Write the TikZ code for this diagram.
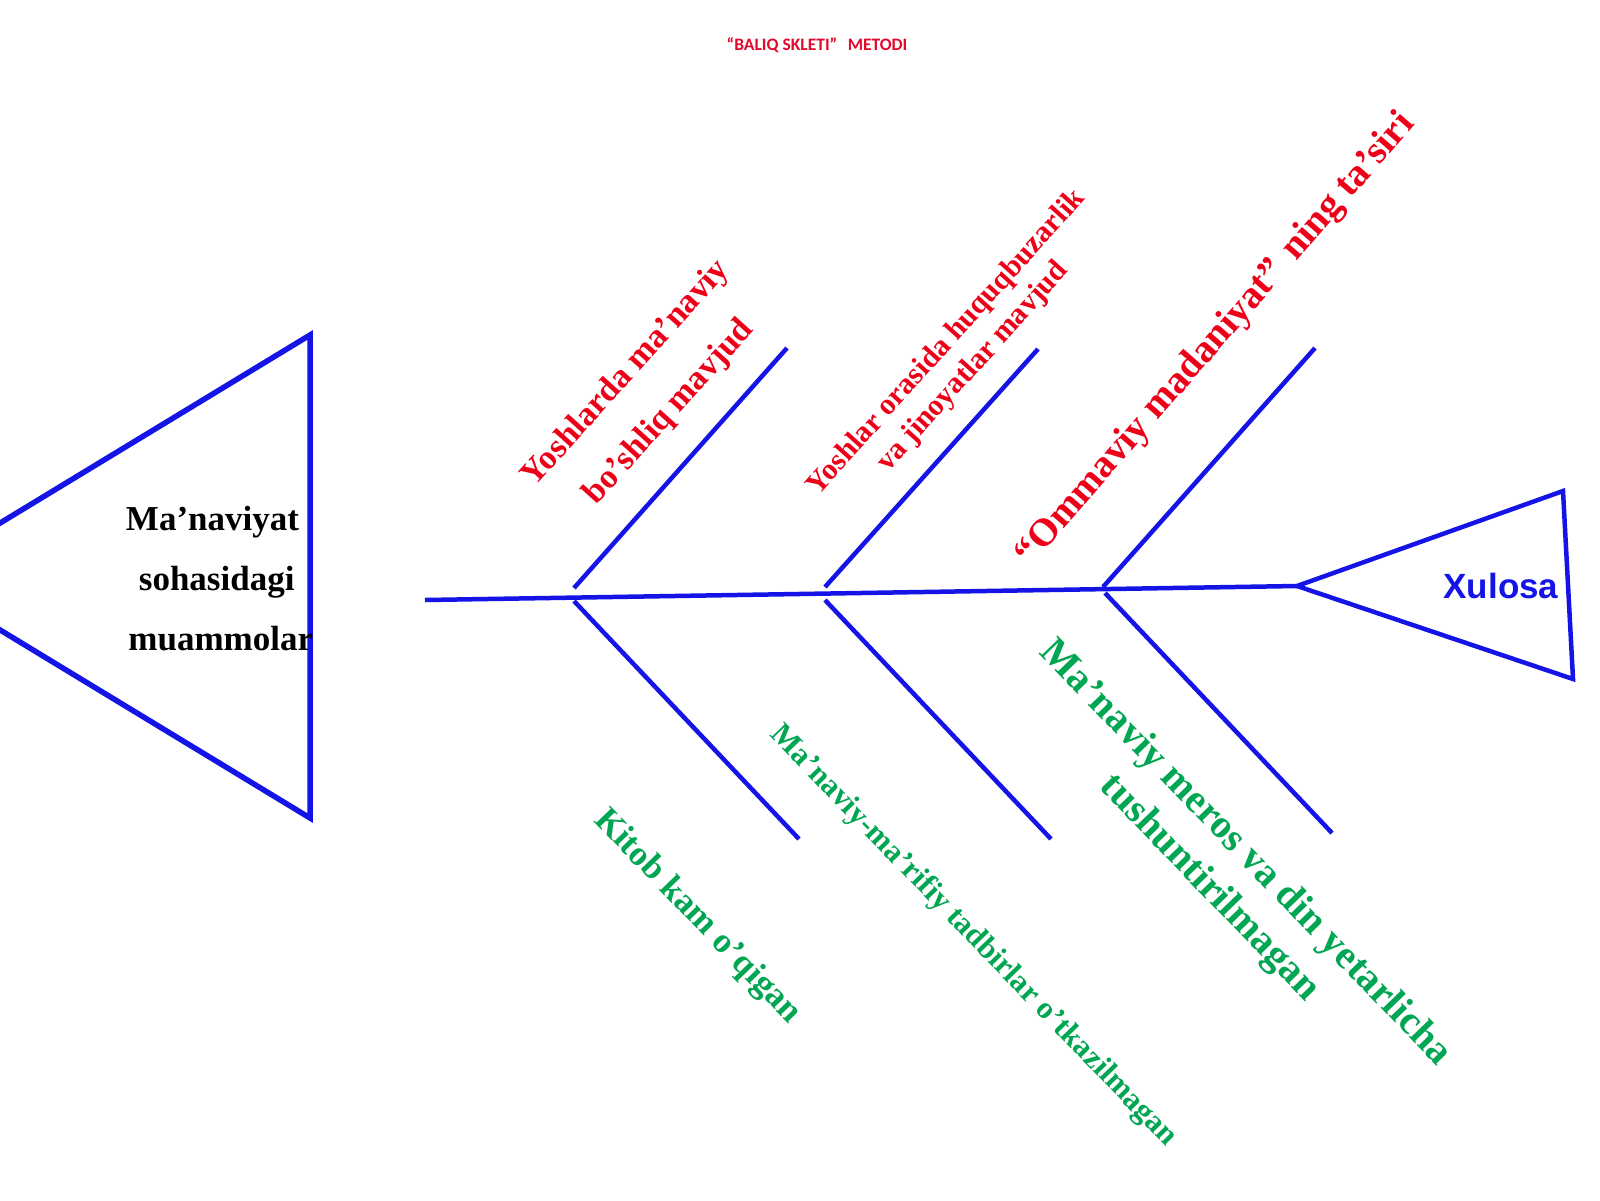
\documentclass[tikz,border=0pt]{standalone}
\usepackage{fontspec}
\setmainfont{Liberation Serif}
\newfontfamily\sansfnt{Liberation Sans}
\newfontfamily\calfnt{Carlito}
\definecolor{lineblue}{RGB}{20,20,230}
\definecolor{labred}{RGB}{238,0,24}
\definecolor{labgreen}{RGB}{0,166,81}
\definecolor{titlered}{RGB}{225,10,45}
\begin{document}
\begin{tikzpicture}[x=1pt,y=-1pt,
  bone/.style={draw=lineblue,line width=4.5pt},
  headtri/.style={draw=lineblue,line width=5.5pt},
  tailtri/.style={draw=lineblue,line width=4.5pt},
  lab/.style={inner sep=0pt,align=center},
  uplab/.style={lab,text=labred,rotate=48},
  downlab/.style={lab,text=labgreen,rotate=-46}]
\useasboundingbox (0,0) rectangle (1600,1200);
\fill[white] (0,0) rectangle (1600,1200);
\clip (0,0) rectangle (1600,1200);

% title
\node[font=\calfnt\bfseries\fontsize{17.5}{20}\selectfont,text=titlered,inner sep=0pt] (title) at (817,45) {“BALIQ SKLETI”\hspace{0.6em}METODI};

% left triangle (head of the problem)
\coordinate (ltop) at (310,335);
\coordinate (lbot) at (310,818);
\coordinate (lapex) at (-88,576.5);
\draw[headtri] (ltop) -- (lapex) -- (lbot) -- cycle;
\node[font=\bfseries\fontsize{35}{42}\selectfont,anchor=base,inner sep=0pt] (prob1) at (212.5,530.7) {Ma’naviyat};
\node[font=\bfseries\fontsize{35}{42}\selectfont,anchor=base,inner sep=0pt] (prob2) at (216.7,590) {sohasidagi};
\node[font=\bfseries\fontsize{35}{42}\selectfont,anchor=base,inner sep=0pt] (prob3) at (220.8,650) {muammolar};

% spine
\coordinate (tail) at (425,600);
\coordinate (head) at (1297,586);
\draw[bone] (tail) -- (head);

% right triangle (conclusion)
\coordinate (rtop) at (1563,491);
\coordinate (rbot) at (1573,679);
\draw[tailtri] (head) -- (rtop) -- (rbot) -- cycle;
\node[font=\sansfnt\bfseries\fontsize{35}{42}\selectfont,text=lineblue,inner sep=0pt] (xulosa) at (1501,586) {Xulosa};

% bones
\coordinate (u1s) at (574,588);  \coordinate (u1) at (787,348);
\coordinate (u2s) at (825,587);  \coordinate (u2) at (1038,349);
\coordinate (u3s) at (1103,587); \coordinate (u3) at (1315,348);
\coordinate (d1s) at (574,601);  \coordinate (d1) at (799,839);
\coordinate (d2s) at (825,600);  \coordinate (d2) at (1051,839);
\coordinate (d3s) at (1105,593); \coordinate (d3) at (1332,833);
\draw[bone] (u1s) -- (u1);
\draw[bone] (u2s) -- (u2);
\draw[bone] (u3s) -- (u3);
\draw[bone] (d1s) -- (d1);
\draw[bone] (d2s) -- (d2);
\draw[bone] (d3s) -- (d3);

% cause labels
\node[uplab,font=\bfseries\fontsize{34}{58}\selectfont] (lab1) at (648,393) {Yoshlarda ma’naviy\\bo’shliq mavjud};
\node[uplab,font=\bfseries\fontsize{30}{36}\selectfont] (lab2) at (960,355) {Yoshlar orasida huquqbuzarlik\\va jinoyatlar mavjud};
\node[uplab,rotate=1,font=\bfseries\fontsize{39}{46}\selectfont] (lab3) at (1216,340) {“Ommaviy madaniyat”\hspace{0.35em}ning ta’siri};
\node[downlab,font=\bfseries\fontsize{35}{44}\selectfont] (lab4) at (697,917) {Kitob kam o’qigan};
\node[downlab,font=\bfseries\fontsize{31}{38}\selectfont] (lab5) at (973,936) {Ma’naviy-ma’rifiy tadbirlar o’tkazilmagan};
\node[downlab,font=\bfseries\fontsize{40}{50}\selectfont] (lab6) at (1227,871) {Ma’naviy meros va din yetarlicha\\tushuntirilmagan};
\end{tikzpicture}
\end{document}
